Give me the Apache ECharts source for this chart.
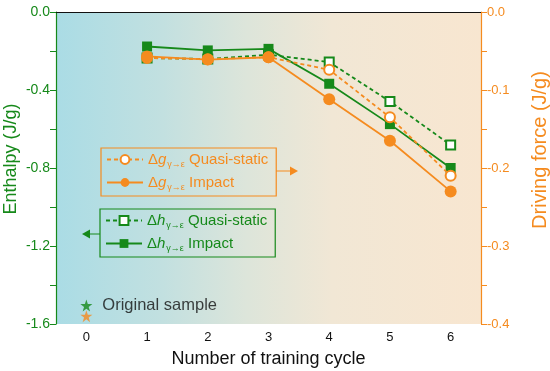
<!DOCTYPE html>
<html><head><meta charset="utf-8">
<script src="https://cdn.jsdelivr.net/npm/echarts@6/dist/echarts.min.js"></script>
<style>html,body{margin:0;padding:0;background:#fff}#c{width:550px;height:371px}</style>
</head><body><div id="c"></div>
<script>
const cycles = ['0','1','2','3','4','5','6'];
const hQuasi  = [null, -0.236, -0.241, -0.219, -0.257, -0.459, -0.682];
const hImpact = [null, -0.177, -0.197, -0.189, -0.368, -0.575, -0.800];
const gQuasi  = [null, -0.059, -0.0605, -0.058, -0.074, -0.135, -0.210];
const gImpact = [null, -0.057, -0.061, -0.058, -0.112, -0.165, -0.230];
const hOriginal = [-1.505, null, null, null, null, null, null];
const gOriginal = [-0.390, null, null, null, null, null, null];

const GREEN = '#16891a';
const ORANGE = '#f58b1f';
const FONT = 'Liberation Sans, Arial, sans-serif';
const STAR = 'path://M50,0 L61.8,35.1 L98.9,35.1 L68.9,56.8 L80.3,91.9 L50,70.2 L19.7,91.9 L31.1,56.8 L1.1,35.1 L38.2,35.1 Z';

const names = {
  gQ: '{d|Δ}{v|g}{s|γ→ε}{t| Quasi-static}',
  gI: '{d|Δ}{v|g}{s|γ→ε}{t| Impact}',
  hQ: '{d|Δ}{v|h}{s|γ→ε}{t| Quasi-static}',
  hI: '{d|Δ}{v|h}{s|γ→ε}{t| Impact}'
};
function rich(color){
  return {
    d:{fontSize:15, color:color, fontFamily:FONT},
    v:{fontSize:15, color:color, fontStyle:'italic', fontFamily:FONT},
    s:{fontSize:9, color:color, padding:[10,0,0,1], fontFamily:FONT},
    t:{fontSize:15, color:color, fontFamily:FONT}
  };
}

const chart = echarts.init(document.getElementById('c'), null, {renderer:'canvas'});
chart.setOption({
  animation:false,
  textStyle:{fontFamily:FONT},
  grid:{left:56, right:69, top:12, bottom:47, show:true, borderWidth:0, containLabel:false,
    outerBoundsMode:'none',
    backgroundColor:{type:'linear', x:0, y:0, x2:1, y2:0, colorStops:[
      {offset:0, color:'#aadce5'},
      {offset:0.25, color:'#c2e0e0'},
      {offset:0.45, color:'#dde5da'},
      {offset:0.65, color:'#f1e7d5'},
      {offset:1, color:'#f8e6d0'}]}},
  xAxis:[{
    type:'category', data:cycles, boundaryGap:true,
    axisLine:{lineStyle:{color:'#111', width:1.2}},
    axisTick:{alignWithLabel:true, length:5, lineStyle:{color:'#111'}},
    axisLabel:{color:'#111', fontSize:13, margin:7},
    name:'Number of training cycle', nameLocation:'middle', nameGap:26,
    nameTextStyle:{color:'#111', fontSize:18}
  },{
    type:'category', data:cycles, position:'top',
    axisLine:{lineStyle:{color:'#111', width:1.2}},
    axisTick:{show:false}, axisLabel:{show:false}
  }],
  yAxis:[{
    type:'value', min:-1.6, max:0, interval:0.4, position:'left',
    axisLine:{show:true, lineStyle:{color:GREEN, width:1.2}},
    axisTick:{show:true, length:6, lineStyle:{color:GREEN}},
    minorTick:{show:true, splitNumber:2, length:6, lineStyle:{color:GREEN}},
    splitLine:{show:false},
    axisLabel:{color:GREEN, fontSize:14, margin:6, formatter:v=>v.toFixed(1)}
  },{
    type:'value', min:-0.4, max:0, interval:0.1, position:'right',
    axisLine:{show:true, lineStyle:{color:ORANGE, width:1.2}},
    axisTick:{show:true, length:6, lineStyle:{color:ORANGE}},
    minorTick:{show:true, splitNumber:2, length:6, lineStyle:{color:ORANGE}},
    splitLine:{show:false},
    axisLabel:{color:ORANGE, fontSize:13, margin:6, formatter:v=>v.toFixed(1)},
    name:'Driving force (J/g)', nameLocation:'middle', nameGap:49,
    nameTextStyle:{color:ORANGE, fontSize:20, padding:[0,0,0,36]}
  }],
  legend:[{
    data:['gQ','gI'], orient:'vertical', left:101, top:148,
    itemWidth:36, itemHeight:11, itemGap:6, padding:[4,8,4,5],
    borderColor:ORANGE, borderWidth:1.2, selectedMode:false,
    formatter:n=>names[n], textStyle:{color:ORANGE, rich:rich(ORANGE)}
  },{
    data:['hQ','hI'], orient:'vertical', left:100, top:209,
    itemWidth:36, itemHeight:11, itemGap:6, padding:[4,8,4,5],
    borderColor:GREEN, borderWidth:1.2, selectedMode:false,
    formatter:n=>names[n], textStyle:{color:GREEN, rich:rich(GREEN)}
  }],
  series:[
    {name:'hQ', type:'line', yAxisIndex:0, data:hQuasi, symbol:'emptyRect', symbolSize:9,
     lineStyle:{color:GREEN, width:1.8, type:[4,3]}, itemStyle:{color:GREEN, borderWidth:2}, z:2},
    {name:'hI', type:'line', yAxisIndex:0, data:hImpact, symbol:'rect', symbolSize:10,
     lineStyle:{color:GREEN, width:1.8}, itemStyle:{color:GREEN}, z:2},
    {name:'gQ', type:'line', yAxisIndex:1, data:gQuasi, symbol:'emptyCircle', symbolSize:10,
     lineStyle:{color:ORANGE, width:1.8, type:[4,3]}, itemStyle:{color:ORANGE, borderWidth:2}, z:3},
    {name:'gI', type:'line', yAxisIndex:1, data:gImpact, symbol:'circle', symbolSize:12,
     lineStyle:{color:ORANGE, width:1.8}, itemStyle:{color:ORANGE}, z:3},
    {name:'hOrig', type:'scatter', yAxisIndex:0, data:hOriginal, symbol:STAR, symbolSize:12,
     itemStyle:{color:GREEN},
     label:{show:true, position:'right', distance:10, color:'#111', fontSize:16.5,
       formatter:'Original sample'}},
    {name:'gOrig', type:'scatter', yAxisIndex:1, data:gOriginal, symbol:STAR, symbolSize:12,
     itemStyle:{color:ORANGE}}
  ],
  graphic:[
    {type:'text', x:11, y:159, rotation:Math.PI/2,
     style:{text:'Enthalpy (J/g)', fill:GREEN, font:'18px Liberation Sans, Arial, sans-serif',
       align:'center', verticalAlign:'middle'}},
    {type:'line', shape:{x1:276, y1:171, x2:291, y2:171}, style:{stroke:ORANGE, lineWidth:1}},
    {type:'polygon', shape:{points:[[290,166.5],[298,171],[290,175.5]]}, style:{fill:ORANGE}},
    {type:'line', shape:{x1:89, y1:234, x2:100, y2:234}, style:{stroke:GREEN, lineWidth:1}},
    {type:'polygon', shape:{points:[[90,229.5],[82,234],[90,238.5]]}, style:{fill:GREEN}}
  ]
});
</script></body></html>
